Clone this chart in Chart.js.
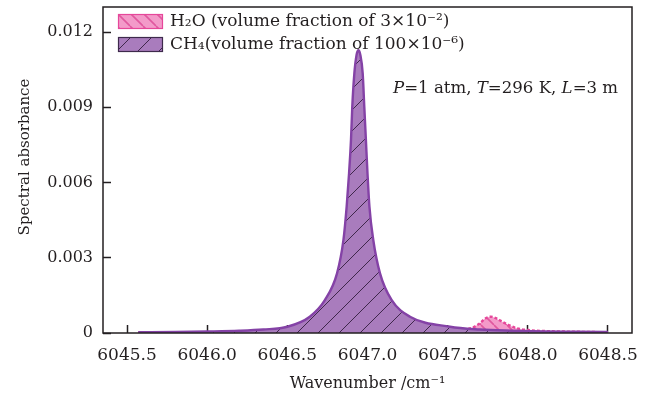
<!DOCTYPE html>
<html>
<head>
<meta charset="utf-8">
<script src="https://cdn.jsdelivr.net/npm/chart.js@4/dist/chart.umd.min.js"></script>
<style>
  html, body { margin: 0; padding: 0; background: #fff; }
  #wrap { width: 646px; height: 397px; position: relative; }
</style>
</head>
<body>
<div id="wrap"><canvas id="absChart"></canvas></div>
<script>
/* ───────────────────────────── Data */
const ch4Wavenumber = [
  6045.57, 6045.8, 6046.0, 6046.2, 6046.35, 6046.5, 6046.64, 6046.735, 6046.81,
  6046.85, 6046.87, 6046.885, 6046.897, 6046.905, 6046.918, 6046.932, 6046.943,
  6046.955, 6046.97, 6046.98, 6046.99, 6047.0, 6047.012, 6047.036, 6047.078,
  6047.15, 6047.265, 6047.515, 6047.7, 6047.9, 6048.1, 6048.3, 6048.5
];
const ch4Absorbance = [
  0.00003, 0.00004, 0.00006, 0.00009, 0.00014, 0.00025, 0.00065, 0.00132, 0.00238,
  0.00371, 0.00504, 0.00637, 0.0077, 0.00902, 0.01035, 0.0111, 0.01128,
  0.0111, 0.01035, 0.00902, 0.0077, 0.00637, 0.00504, 0.00371, 0.00238,
  0.00132, 0.00065, 0.00025, 0.00014, 0.00009, 0.00006, 0.00005, 0.00004
];

const h2oWavenumber = [
  6045.57, 6046.0, 6046.5, 6047.0, 6047.3, 6047.5, 6047.6, 6047.65, 6047.7,
  6047.735, 6047.77, 6047.8, 6047.84, 6047.88, 6047.93, 6048.0, 6048.1, 6048.3, 6048.5
];
const h2oAbsorbance = [
  0.00002, 0.00003, 0.00004, 0.00006, 0.00008, 0.00011, 0.00014, 0.0002, 0.00038,
  0.00058, 0.00065, 0.00059, 0.00045, 0.00032, 0.00019, 0.00012, 0.00008, 0.00005, 0.00003
];

const xTicks = [6045.5, 6046.0, 6046.5, 6047.0, 6047.5, 6048.0, 6048.5];
const yTicks = [0, 0.003, 0.006, 0.009, 0.012];
const yTickLabels = ['0', '0.003', '0.006', '0.009', '0.012'];

const legendLabels = [
  'H\u2082O (volume fraction of 3\u00d710\u207b\u00b2)',
  'CH\u2084(volume fraction of 100\u00d710\u207b\u2076)'
];
const yTitle = 'Spectral absorbance';
// italic symbol / upright rest pairs
const conditionParts = [['P', true], ['=1 atm, ', false], ['T', true], ['=296 K, ', false], ['L', true], ['=3 m', false]];

/* ───────────────────────────── Look */
const SERIF      = '"DejaVu Serif", "Liberation Serif", serif';
const INK        = '#231f20';
const CH4_LINE   = '#8442a6';
const CH4_FILL   = '#a97cbd';
const CH4_HATCH  = 'rgba(45,25,55,0.85)';
const H2O_LINE   = '#e6479a';
const H2O_FILL   = '#f39ac9';
const H2O_HATCH  = '#e0589f';

/* ───────────────────────────── Hatch patterns */
function hatch(bg, line, size, dir, width) {
  const c = document.createElement('canvas');
  c.width = c.height = size;
  const g = c.getContext('2d');
  g.fillStyle = bg;
  g.fillRect(0, 0, size, size);
  g.strokeStyle = line;
  g.lineWidth = width;
  g.beginPath();
  [-size, 0, size].forEach(k => {
    if (dir === '/') { g.moveTo(k, size); g.lineTo(k + size, 0); }
    else             { g.moveTo(k, 0);    g.lineTo(k + size, size); }
  });
  g.stroke();
  return g.createPattern(c, 'repeat');
}
const ch4Pattern = hatch(CH4_FILL, CH4_HATCH, 21, '/', 1);
const h2oPattern = hatch(H2O_FILL, H2O_HATCH, 13, '\\', 1.6);

/* ───────────────────────────── Frame, inner legend, conditions, y title */
const framePlugin = {
  id: 'frame',
  afterDatasetsDraw(chart) {
    const { ctx, chartArea: a } = chart;
    ctx.save();

    // legend boxes + labels
    const rows = [
      { y: 14, fill: h2oPattern, edge: H2O_LINE, text: legendLabels[0] },
      { y: 37, fill: ch4Pattern, edge: '#3e2a4c', text: legendLabels[1] }
    ];
    rows.forEach(r => {
      ctx.fillStyle = r.fill;
      ctx.fillRect(118, r.y, 45, 15);
      ctx.strokeStyle = r.edge;
      ctx.lineWidth = 1.2;
      ctx.strokeRect(118.5, r.y + 0.5, 44, 14);
      ctx.fillStyle = INK;
      ctx.font = '17px ' + SERIF;
      ctx.textBaseline = 'middle';
      ctx.textAlign = 'left';
      ctx.fillText(r.text, 170, r.y + 8);
    });

    // P, T, L conditions
    let x = 393;
    ctx.textBaseline = 'alphabetic';
    conditionParts.forEach(([t, it]) => {
      ctx.font = (it ? 'italic ' : '') + '16.6px ' + SERIF;
      ctx.fillText(t, x, 93);
      x += ctx.measureText(t).width;
    });

    // y title (sits a little above the axis centre in the original)
    ctx.save();
    ctx.translate(25, 157);
    ctx.rotate(-Math.PI / 2);
    ctx.font = '15px ' + SERIF;
    ctx.textAlign = 'center';
    ctx.textBaseline = 'middle';
    ctx.fillText(yTitle, 0, 0);
    ctx.restore();

    // box frame
    ctx.strokeStyle = INK;
    ctx.lineWidth = 1.5;
    ctx.strokeRect(a.left, a.top, a.right - a.left, a.bottom - a.top);
    ctx.restore();
  }
};

const noPad = s => { s.paddingLeft = s.paddingRight = s.paddingTop = s.paddingBottom = 0; };

/* ───────────────────────────── Chart */
const toPoints = (xs, ys) => xs.map((x, i) => ({ x, y: ys[i] }));

new Chart(document.getElementById('absChart').getContext('2d'), {
  type: 'line',
  data: {
    datasets: [
      {
        label: 'H2O',
        data: toPoints(h2oWavenumber, h2oAbsorbance),
        borderColor: H2O_LINE,
        borderWidth: 2.4,
        borderDash: [3, 2],
        backgroundColor: h2oPattern,
        fill: 'origin',
        pointRadius: 0,
        cubicInterpolationMode: 'monotone',
        order: 2
      },
      {
        label: 'CH4',
        data: toPoints(ch4Wavenumber, ch4Absorbance),
        borderColor: CH4_LINE,
        borderWidth: 2.4,
        backgroundColor: ch4Pattern,
        fill: 'origin',
        pointRadius: 0,
        cubicInterpolationMode: 'monotone',
        order: 1
      }
    ]
  },
  options: {
    responsive: true,
    maintainAspectRatio: false,
    animation: false,
    layout: { padding: { top: 7, right: 14, left: 0, bottom: 0 } },
    plugins: { legend: { display: false }, tooltip: { enabled: false } },
    scales: {
      x: {
        type: 'linear',
        min: 6045.35,
        max: 6048.65,
        afterBuildTicks: s => { s.ticks = xTicks.map(v => ({ value: v })); },
        afterFit: s => { s.height = 64; noPad(s); },
        grid: { drawOnChartArea: false, tickLength: -8, tickColor: INK, tickWidth: 1.5 },
        border: { display: false },
        ticks: { color: INK, font: { family: SERIF, size: 17 }, padding: 20, maxRotation: 0,
                 callback: v => v.toFixed(1) },
        title: { display: true, text: 'Wavenumber /cm\u207b\u00b9', color: INK,
                 font: { family: SERIF, size: 16 }, padding: { top: 0, bottom: 4 } }
      },
      y: {
        min: 0,
        max: 0.013,
        afterBuildTicks: s => { s.ticks = yTicks.map(v => ({ value: v })); },
        afterFit: s => { s.width = 103; noPad(s); },
        grid: { drawOnChartArea: false, tickLength: -8, tickColor: INK, tickWidth: 1.5 },
        border: { display: false },
        ticks: { color: INK, font: { family: SERIF, size: 16 }, padding: 18,
                 callback: v => yTickLabels[yTicks.indexOf(v)] },
        title: { display: false }
      }
    }
  },
  plugins: [framePlugin]
});
</script>
</body>
</html>
